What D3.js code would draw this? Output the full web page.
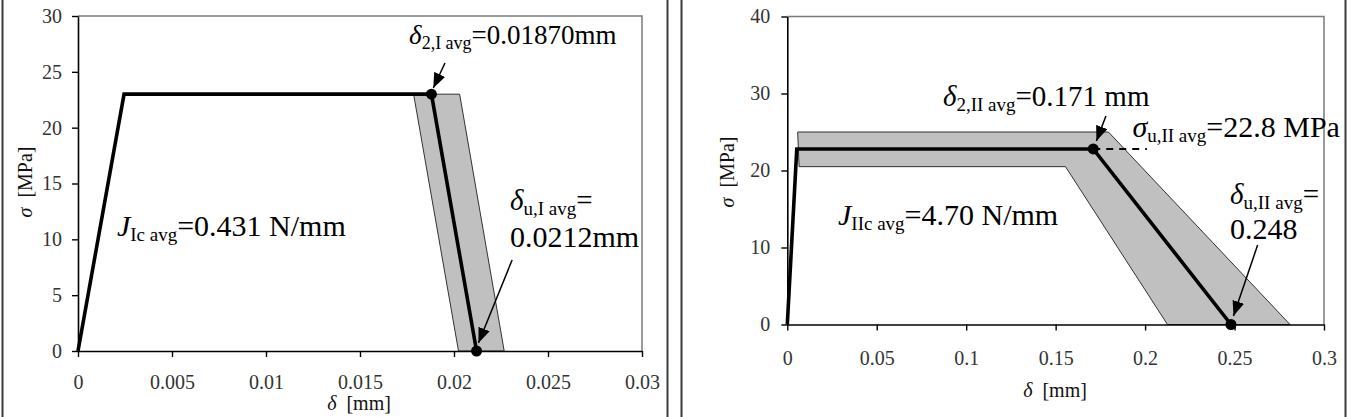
<!DOCTYPE html>
<html><head><meta charset="utf-8">
<script src="https://cdn.jsdelivr.net/npm/d3@7"></script>
<style>
body{margin:0;background:#fff}
svg{display:block}
svg text{font-family:"Liberation Serif","Times New Roman",serif !important}
</style>
</head><body>
<svg id="c" width="1351" height="417" font-family="Liberation Serif, serif"></svg>
<script>
// ---------- Mode I data ----------
const modeIDelta = [0, 0.00245, 0.0188, 0.0212];
const modeISigma = [0, 23.0, 23.0, 0];
const modeIBandDelta = [0.01785, 0.0203, 0.02267, 0.02024];
const modeIBandSigma = [23.0, 23.0, 0, 0];
const modeIXTicks = [0, 0.005, 0.01, 0.015, 0.02, 0.025, 0.03];
const modeIYTicks = [0, 5, 10, 15, 20, 25, 30];
const modeIMarkIdx = [2, 3];

// ---------- Mode II data ----------
const modeIIDelta = [0, 0.0053, 0.171, 0.248];
const modeIISigma = [0, 22.8, 22.8, 0];
const modeIIBandDelta = [0.0058, 0.1795, 0.281, 0.2125, 0.1555, 0.0066];
const modeIIBandSigma = [25, 25, 0, 0, 20.5, 20.5];
const modeIIXTicks = [0, 0.05, 0.1, 0.15, 0.2, 0.25, 0.3];
const modeIIYTicks = [0, 10, 20, 30, 40];
const modeIIMarkIdx = [2, 3];
const modeIIDashDelta = [0.171, 0.201];
const modeIIDashSigma = [22.8, 22.8];

const FONT = '"Liberation Serif", "Times New Roman", serif';
const svg = d3.select("#c");

// arrow marker
svg.append("defs").append("marker")
  .attr("id", "ah").attr("viewBox", "0 0 15 12")
  .attr("refX", 15).attr("refY", 6)
  .attr("markerWidth", 15).attr("markerHeight", 12)
  .attr("markerUnits", "userSpaceOnUse").attr("orient", "auto")
  .append("path").attr("d", "M0,0 L15,6 L0,12 z").attr("fill", "#000");

// panel frames (vertical rules)
[2.5, 667.5, 681.5, 1345.5].forEach(px => {
  svg.append("line").attr("x1", px).attr("x2", px).attr("y1", 0).attr("y2", 417)
    .attr("stroke", "#3a3a3a").attr("stroke-width", 2);
});

function rich(g, x, y, parts, size, sub) {
  const t = g.append("text").attr("x", x).attr("y", y)
    .attr("font-size", size).attr("fill", "#000").style("font-family", FONT);
  const off = Math.round(size * 0.18);
  parts.forEach(p => {
    const s = t.append("tspan").text(p.t);
    if (p.i) s.attr("font-style", "italic");
    if (p.s) s.attr("font-size", sub).attr("dy", off);
    else if (p.after) s.attr("dy", -off);
  });
  return t;
}

function panel(cfg) {
  const x = d3.scaleLinear().domain(cfg.xDom).range(cfg.xR);
  const y = d3.scaleLinear().domain(cfg.yDom).range(cfg.yR);
  const g = svg.append("g");

  // plot frame top/right
  g.append("path")
    .attr("d", `M${cfg.xR[0]},${cfg.yR[1]}H${cfg.xR[1]}V${cfg.yR[0]}`)
    .attr("fill", "none").attr("stroke", "#7a7a7a").attr("stroke-width", 1.5);

  // band
  const band = cfg.bandX.map((d, i) => [x(d), y(cfg.bandY[i])]);
  g.append("path").attr("d", d3.line()(band) + "Z")
    .attr("fill", "#c0c0c0").attr("stroke", "#333").attr("stroke-width", 1);

  // axes
  const ax = g.append("g").attr("transform", `translate(0,${cfg.yR[0]})`)
    .call(d3.axisBottom(x).tickValues(cfg.xTicks).tickSize(6).tickSizeOuter(0)
      .tickPadding(cfg.xPad).tickFormat(d => String(d)));
  const ay = g.append("g").attr("transform", `translate(${cfg.xR[0]},0)`)
    .call(d3.axisLeft(y).tickValues(cfg.yTicks).tickSize(6).tickSizeOuter(0)
      .tickPadding(cfg.yPad).tickFormat(d => String(d)));
  [ax, ay].forEach(a => {
    a.attr("font-family", FONT).attr("font-size", 20);
    a.select(".domain").attr("stroke", "#000").attr("stroke-width", 1.6);
    a.selectAll(".tick line").attr("stroke", "#000").attr("stroke-width", 1.4);
    a.selectAll("text").attr("font-size", 20).attr("fill", "#333").style("font-family", FONT);
  });

  // avg curve
  const pts = cfg.lx.map((d, i) => [x(d), y(cfg.ly[i])]);
  g.append("path").attr("d", d3.line()(pts)).attr("fill", "none")
    .attr("stroke", "#000").attr("stroke-width", 3.6).attr("stroke-linejoin", "miter");

  if (cfg.dashX) {
    g.append("path").attr("d", d3.line()(cfg.dashX.map((d, i) => [x(d), y(cfg.dashY[i])])))
      .attr("stroke", "#000").attr("stroke-width", 2).attr("stroke-dasharray", "7,6");
  }

  cfg.mark.forEach(i => {
    g.append("circle").attr("cx", x(cfg.lx[i])).attr("cy", y(cfg.ly[i])).attr("r", 5.5).attr("fill", "#000");
  });

  // arrows
  cfg.arrows.forEach(a => {
    g.append("line").attr("x1", x(a[0])).attr("y1", y(a[1])).attr("x2", x(a[2])).attr("y2", y(a[3]))
      .attr("stroke", "#000").attr("stroke-width", 1.5).attr("marker-end", "url(#ah)");
  });

  // labels
  cfg.labels.forEach(l => rich(g, x(l.x), y(l.y), l.parts, l.size, l.sub));

  // axis titles
  const tx = g.append("text").attr("x", cfg.xt[0]).attr("y", cfg.xt[1])
    .attr("text-anchor", "middle").attr("font-size", 20).attr("fill", "#111").style("font-family", FONT);
  tx.append("tspan").attr("font-style", "italic").text("δ");
  tx.append("tspan").text("\u00a0\u00a0[mm]");
  const ty = g.append("text").attr("transform", `translate(${cfg.yt[0]},${cfg.yt[1]}) rotate(-90)`)
    .attr("text-anchor", "middle").attr("font-size", 20).attr("fill", "#111").style("font-family", FONT);
  ty.append("tspan").attr("font-style", "italic").text("σ");
  ty.append("tspan").text("\u00a0\u00a0[MPa]");
}

panel({
  xDom: [0, 0.03], xR: [78, 642], yDom: [0, 30], yR: [351, 16],
  xTicks: modeIXTicks, yTicks: modeIYTicks, xPad: 18, yPad: 10,
  lx: modeIDelta, ly: modeISigma, bandX: modeIBandDelta, bandY: modeIBandSigma,
  mark: modeIMarkIdx,
  arrows: [[0.01952, 25.79, 0.0189, 23.55], [0.02309, 8.15, 0.0213, 0.72]],
  labels: [
    {x: 0.01761, y: 27.49, size: 27, sub: 18, parts: [{t: "δ", i: 1}, {t: "2,I avg", s: 1}, {t: "=0.01870mm", after: 1}]},
    {x: 0.02298, y: 12.6, size: 29, sub: 19, parts: [{t: "δ", i: 1}, {t: "u,I avg", s: 1}, {t: "=", after: 1}]},
    {x: 0.02298, y: 9.35, size: 30, sub: 19, parts: [{t: "0.0212mm"}]},
    {x: 0.00207, y: 10.30, size: 30, sub: 19, parts: [{t: "J", i: 1}, {t: "Ic avg", s: 1}, {t: "=0.431 N/mm", after: 1}]}
  ],
  xt: [359, 410], yt: [32, 182]
});

panel({
  xDom: [0, 0.3], xR: [787.3, 1324], yDom: [0, 40], yR: [324.5, 16.5],
  xTicks: modeIIXTicks, yTicks: modeIIYTicks, xPad: 20, yPad: 11,
  lx: modeIIDelta, ly: modeIISigma, bandX: modeIIBandDelta, bandY: modeIIBandSigma,
  mark: modeIIMarkIdx, dashX: modeIIDashDelta, dashY: modeIIDashSigma,
  arrows: [[0.1781, 27.08, 0.1728, 23.83], [0.2629, 10.32, 0.2494, 1.10]],
  labels: [
    {x: 0.0870, y: 28.38, size: 29, sub: 19, parts: [{t: "δ", i: 1}, {t: "2,II avg", s: 1}, {t: "=0.171 mm", after: 1}]},
    {x: 0.1929, y: 24.35, size: 30, sub: 19, parts: [{t: "σ", i: 1}, {t: "u,II avg", s: 1}, {t: "=22.8 MPa", after: 1}]},
    {x: 0.2475, y: 15.7, size: 29, sub: 19, parts: [{t: "δ", i: 1}, {t: "u,II avg", s: 1}, {t: "=", after: 1}]},
    {x: 0.2475, y: 11.05, size: 30, sub: 19, parts: [{t: "0.248"}]},
    {x: 0.02834, y: 12.92, size: 30, sub: 19, parts: [{t: "J", i: 1}, {t: "IIc avg", s: 1}, {t: "=4.70 N/mm", after: 1}]}
  ],
  xt: [1055, 397], yt: [734, 172]
});
</script>
</body></html>
